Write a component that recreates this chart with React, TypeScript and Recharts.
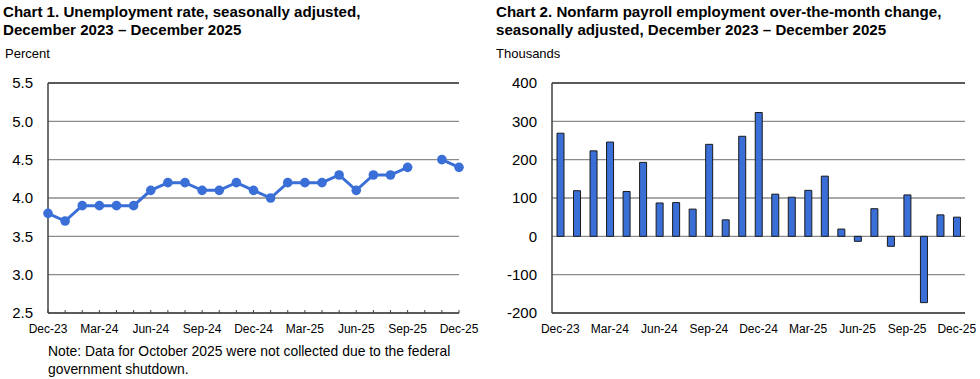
import { LineChart, Line, BarChart, Bar, XAxis, YAxis, CartesianGrid, ReferenceLine } from "recharts";

const months = [
  "Dec-23", "Jan-24", "Feb-24", "Mar-24", "Apr-24", "May-24", "Jun-24", "Jul-24", "Aug-24",
  "Sep-24", "Oct-24", "Nov-24", "Dec-24", "Jan-25", "Feb-25", "Mar-25", "Apr-25", "May-25",
  "Jun-25", "Jul-25", "Aug-25", "Sep-25", "Oct-25", "Nov-25", "Dec-25",
];

// unemployment rate, Oct-25 not collected
const rate = [
  3.8, 3.7, 3.9, 3.9, 3.9, 3.9, 4.1, 4.2, 4.2, 4.1, 4.1, 4.2, 4.1, 4.0, 4.2, 4.2, 4.2, 4.3,
  4.1, 4.3, 4.3, 4.4, null, 4.5, 4.4,
];

// payroll change, thousands
const payroll = [
  269, 119, 223, 246, 117, 193, 87, 88, 71, 240, 43, 261, 323, 110, 102, 120, 157, 19,
  -13, 72, -26, 108, -173, 56, 50,
];

const rateTicks = [2.5, 3.0, 3.5, 4.0, 4.5, 5.0, 5.5];
const payrollTicks = [-200, -100, 0, 100, 200, 300, 400];

const rateData = months.map((m, i) => ({ month: m, rate: rate[i] }));
const payrollData = months.map((m, i) => ({ month: m, change: payroll[i] }));

const FONT = "'Liberation Sans', Arial, sans-serif";
const BLUE = "#3b6fd8";

const titleStyle: React.CSSProperties = {
  position: "absolute",
  fontFamily: FONT,
  fontWeight: "bold",
  fontSize: 15.1,
  lineHeight: "17.5px",
  color: "#000",
  whiteSpace: "nowrap",
};

const smallStyle: React.CSSProperties = {
  position: "absolute",
  fontFamily: FONT,
  fontSize: 13,
  color: "#000",
  whiteSpace: "nowrap",
};

function MonthTick(props: any) {
  const { x, y, payload, index, marks } = props;
  return (
    <g>
      {marks && <line x1={x} x2={x} y1={y - 3} y2={y} stroke="#404040" strokeWidth={1} />}
      {index % 3 === 0 && (
        <text x={x} y={y + 20} textAnchor="middle" fontSize={12} fontFamily={FONT} fill="#000">
          {payload.value}
        </text>
      )}
    </g>
  );
}

export default function App() {
  return (
    <div style={{ position: "absolute", left: 0, top: 0, width: 980, height: 379, background: "#fff", overflow: "hidden" }}>
      <div style={{ ...titleStyle, left: 3, top: 3 }}>
        Chart 1. Unemployment rate, seasonally adjusted,
        <br />
        December 2023 – December 2025
      </div>
      <div style={{ ...smallStyle, left: 5, top: 46 }}>Percent</div>

      <div style={{ position: "absolute", left: 0, top: 0 }}>
        <LineChart width={490} height={379} data={rateData} margin={{ top: 83, right: 31, bottom: 36, left: 0 }}>
          <CartesianGrid vertical={false} stroke="#8c8c8c" strokeWidth={1.3} horizontalValues={rateTicks} />
          <XAxis
            dataKey="month"
            interval={0}
            height={30}
            axisLine={{ stroke: "#404040", strokeWidth: 1.5 }}
            tickLine={false}
            tickSize={0}
            tickMargin={0}
            tick={<MonthTick marks />}
          />
          <YAxis
            domain={[2.5, 5.5]}
            ticks={rateTicks}
            width={48}
            axisLine={{ stroke: "#404040", strokeWidth: 1.5 }}
            tickLine={false}
            tickMargin={9}
            tickFormatter={(v: number) => v.toFixed(1)}
            tick={{ fontSize: 15, fontFamily: FONT, fill: "#000" }}
          />
          <YAxis yAxisId="r" orientation="right" width={0} domain={[2.5, 5.5]} tick={false} tickLine={false} axisLine={{ stroke: "#404040", strokeWidth: 1.5 }} />
          <ReferenceLine y={5.5} stroke="#404040" strokeWidth={1.5} />
          <Line
            dataKey="rate"
            stroke={BLUE}
            strokeWidth={3}
            dot={{ r: 4.8, fill: BLUE, stroke: BLUE, strokeWidth: 0 }}
            connectNulls={false}
            isAnimationActive={false}
          />
        </LineChart>
      </div>
      <div style={{ ...smallStyle, fontSize: 13.9, left: 48, top: 343, lineHeight: "17.5px" }}>
        Note: Data for October 2025 were not collected due to the federal
        <br />
        government shutdown.
      </div>

      <div style={{ ...titleStyle, left: 496, top: 3 }}>
        Chart 2. Nonfarm payroll employment over-the-month change,
        <br />
        seasonally adjusted, December 2023 – December 2025
      </div>
      <div style={{ ...smallStyle, left: 496, top: 46 }}>Thousands</div>

      <div style={{ position: "absolute", left: 490, top: 0 }}>
        <BarChart width={490} height={379} data={payrollData} margin={{ top: 83, right: 15, bottom: 36, left: 0 }}>
          <CartesianGrid vertical={false} stroke="#8c8c8c" strokeWidth={1.3} horizontalValues={payrollTicks} />
          <XAxis
            dataKey="month"
            interval={0}
            height={30}
            axisLine={{ stroke: "#404040", strokeWidth: 1.5 }}
            tickLine={false}
            tickSize={0}
            tickMargin={0}
            tick={<MonthTick />}
          />
          <YAxis
            domain={[-200, 400]}
            ticks={payrollTicks}
            width={62}
            axisLine={{ stroke: "#404040", strokeWidth: 1.5 }}
            tickLine={false}
            tickMargin={9}
            tick={{ fontSize: 15, fontFamily: FONT, fill: "#000" }}
          />
          <YAxis yAxisId="r" orientation="right" width={0} domain={[-200, 400]} tick={false} tickLine={false} axisLine={{ stroke: "#404040", strokeWidth: 1.5 }} />
          <ReferenceLine y={400} stroke="#404040" strokeWidth={1.5} />
          <Bar dataKey="change" barSize={7} fill={BLUE} stroke="#1a1a1a" strokeWidth={1} isAnimationActive={false} />
        </BarChart>
      </div>
    </div>
  );
}
